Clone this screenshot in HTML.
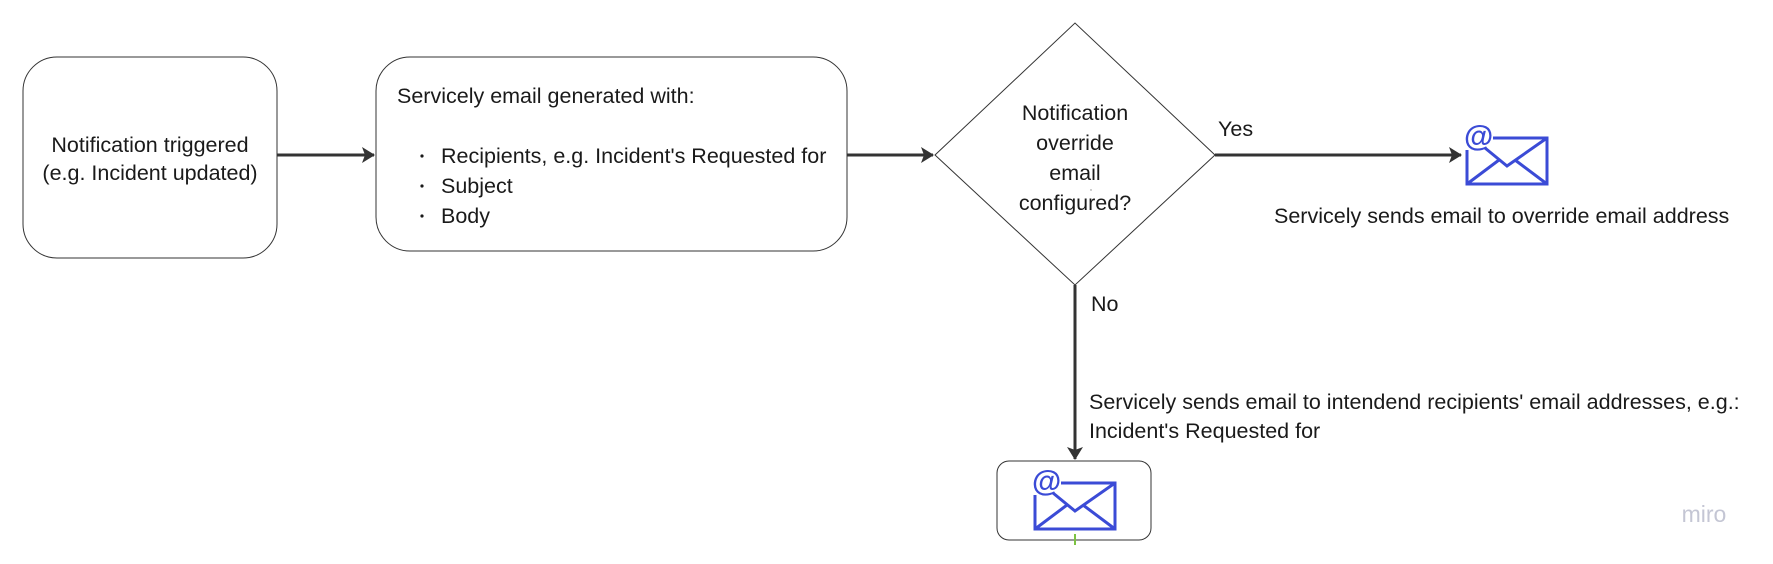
<!DOCTYPE html>
<html><head><meta charset="utf-8"><style>
html,body{margin:0;padding:0;background:#fff;}
body{width:1773px;height:564px;position:relative;overflow:hidden;font-family:"Liberation Sans",sans-serif;color:#1a1a1a;}
svg{position:absolute;left:0;top:0;}
</style></head><body>
<svg width="1773" height="564" viewBox="0 0 1773 564" font-family="Liberation Sans, sans-serif" font-size="21.5" fill="#1a1a1a">
<defs>
<marker id="ah" markerWidth="14" markerHeight="16" refX="12" refY="8" orient="auto" markerUnits="userSpaceOnUse">
<path d="M0,0 L13,8 L0,16 L3,8 Z" fill="#333"/>
</marker>
<g id="env">
<rect x="2" y="14" width="80" height="46" fill="none" stroke="#3b4bd6" stroke-width="3"/>
<rect x="-2" y="0" width="30" height="26" fill="#fff"/>
<text x="-1" y="22" font-size="30" font-weight="bold" fill="#3b4bd6">@</text>
<path d="M20,24 L42,42 L82,14" fill="none" stroke="#3b4bd6" stroke-width="3"/>
<path d="M2,60 L34,36 M82,60 L50,36 M2,60 L2,30" fill="none" stroke="#3b4bd6" stroke-width="3"/>
</g>
</defs>
<rect x="23" y="57" width="254" height="201" rx="34" fill="#fff" stroke="#333" stroke-width="1"/>
<text x="150" y="152" text-anchor="middle">Notification triggered</text>
<text x="150" y="180" text-anchor="middle">(e.g. Incident updated)</text>
<line x1="277" y1="155" x2="374" y2="155" stroke="#333" stroke-width="3" marker-end="url(#ah)"/>
<rect x="376" y="57" width="471" height="194" rx="34" fill="#fff" stroke="#333" stroke-width="1"/>
<text x="397" y="103">Servicely email generated with:</text>
<circle cx="422" cy="156" r="1.6"/><text x="441" y="163">Recipients, e.g. Incident's Requested for</text>
<circle cx="422" cy="186" r="1.6"/><text x="441" y="193">Subject</text>
<circle cx="422" cy="216" r="1.6"/><text x="441" y="223">Body</text>
<line x1="847" y1="155" x2="933" y2="155" stroke="#333" stroke-width="3" marker-end="url(#ah)"/>
<polygon points="935,155 1075,23 1215,155 1075,285" fill="#fff" stroke="#333" stroke-width="1"/>
<text x="1075" y="120" text-anchor="middle">Notification</text>
<text x="1075" y="150" text-anchor="middle">override</text>
<text x="1075" y="180" text-anchor="middle">email</text>
<text x="1075" y="210" text-anchor="middle">configured?</text>
<text x="1218" y="136">Yes</text>
<line x1="1215" y1="155" x2="1461" y2="155" stroke="#333" stroke-width="3" marker-end="url(#ah)"/>
<use href="#env" x="1465" y="124"/>
<text x="1090" y="191" font-size="4" fill="#777">x</text>
<text x="1274" y="223">Servicely sends email to override email address</text>
<line x1="1075" y1="285" x2="1075" y2="459" stroke="#333" stroke-width="3" marker-end="url(#ah)"/>
<text x="1091" y="311">No</text>
<text x="1089" y="409">Servicely sends email to intendend recipients' email addresses, e.g.:</text>
<text x="1089" y="438">Incident's Requested for</text>
<rect x="997" y="461" width="154" height="79" rx="12" fill="#fff" stroke="#333" stroke-width="1"/>
<use href="#env" x="1033" y="469"/>
<line x1="1075" y1="534" x2="1075" y2="545" stroke="#7cc242" stroke-width="2"/>
<text x="1704" y="522" text-anchor="middle" font-size="23" fill="#c4c6d4">miro</text>
</svg>
</body></html>
